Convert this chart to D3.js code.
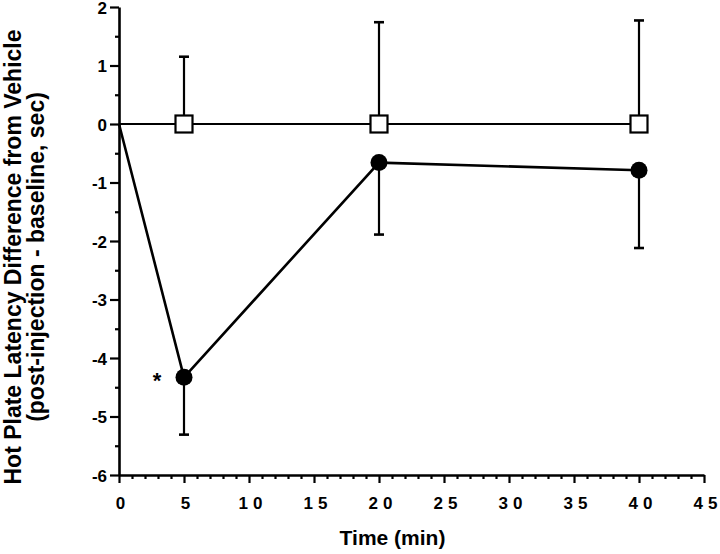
<!DOCTYPE html>
<html>
<head>
<meta charset="utf-8">
<script src="https://cdn.jsdelivr.net/npm/d3@7"></script>
<style>
  body { margin: 0; background: #fff; }
  svg { display: block; }
  text { font-family: "Liberation Sans", Arial, Helvetica, sans-serif; font-weight: bold; fill: #000; }
</style>
</head>
<body>
<svg id="chart" width="720" height="554"></svg>
<script>
// Data
const times = [0, 5, 20, 40];
const vehicleMean = [0, 0, 0, 0];
const vehicleSEM = [null, 1.15, 1.74, 1.77];
const drugMean = [0, -4.33, -0.66, -0.79];
const drugSEM = [null, 0.98, 1.23, 1.33];
const xTicks = [0, 5, 10, 15, 20, 25, 30, 35, 40, 45];
const yTicks = [-6, -5, -4, -3, -2, -1, 0, 1, 2];
const xTitle = "Time (min)";
const yTitle1 = "Hot Plate Latency Difference from Vehicle";
const yTitle2 = "(post-injection - baseline, sec)";
const sigMark = { time: 5, value: -4.33, label: "*" };

const svg = d3.select("#chart");
const W = 720, H = 554;
const m = { left: 119, right: 16, top: 7, bottom: 79 };

const x = d3.scaleLinear().domain([0, 45]).range([m.left, W - m.right]);
const y = d3.scaleLinear().domain([-6, 2]).range([H - m.bottom, m.top]);

// Axes
const yMinor = d3.range(-6, 2.01, 0.5).filter(v => Math.abs(v % 1) > 0.01);
const xMinor = d3.range(0, 45.01, 1).filter(v => v % 5 !== 0);

const gy = svg.append("g").attr("transform", `translate(${m.left},0)`);
gy.call(d3.axisLeft(y).tickValues(yMinor).tickSize(4).tickFormat(""));
gy.call(g => g.select(".domain").remove());
const gyMaj = svg.append("g").attr("transform", `translate(${m.left},0)`)
  .call(d3.axisLeft(y).tickValues(yTicks).tickSize(9).tickPadding(3).tickFormat(d3.format("d")).tickSizeOuter(0));
gyMaj.selectAll("text").style("font-size", "17px").attr("dy", "0.36em").text(d => d < 0 ? "-" + Math.abs(d) : d);

const gx = svg.append("g").attr("transform", `translate(0,${y(-6)})`);
gx.call(d3.axisBottom(x).tickValues(xMinor).tickSize(4).tickFormat(""));
gx.call(g => g.select(".domain").remove());
const gxMaj = svg.append("g").attr("transform", `translate(0,${y(-6)})`)
  .call(d3.axisBottom(x).tickValues(xTicks).tickSize(8).tickPadding(14).tickSizeOuter(0));
// spaced-out digits (gap only between characters)
gxMaj.selectAll("text").style("font-size", "17px").attr("dx", "1px").each(function(d) {
  const s = String(d);
  const t = d3.select(this).text(null);
  t.append("tspan").text(s[0]);
  if (s.length > 1) t.append("tspan").attr("dx", 5).text(s.slice(1));
});

svg.selectAll(".domain").attr("stroke-width", 2.6).attr("stroke", "#000");
svg.selectAll(".tick line").attr("stroke-width", 2.2).attr("stroke", "#000");
svg.selectAll(".tick text").attr("fill", "#000");

// Titles
svg.append("text").attr("x", (x(0) + x(45)) / 2 - 19).attr("y", 545).attr("text-anchor", "middle")
  .style("font-size", "21px").text(xTitle);
svg.append("text").attr("transform", "translate(21,257) rotate(-90)").attr("text-anchor", "middle")
  .style("font-size", "23px").text(yTitle1);
svg.append("text").attr("transform", "translate(44,257) rotate(-90)").attr("text-anchor", "middle")
  .style("font-size", "23px").text(yTitle2);

// Error bars
function errBars(means, sems, dir, sw) {
  const rows = times.map((t, i) => ({ t, m: means[i], s: sems[i] })).filter(d => d.s != null);
  const g = svg.append("g").attr("stroke", "#000").attr("stroke-width", sw);
  g.selectAll("line.v").data(rows).join("line")
    .attr("x1", d => x(d.t)).attr("x2", d => x(d.t))
    .attr("y1", d => y(d.m)).attr("y2", d => y(d.m + dir * d.s));
  g.selectAll("line.c").data(rows).join("line")
    .attr("x1", d => x(d.t) - 5).attr("x2", d => x(d.t) + 5)
    .attr("y1", d => y(d.m + dir * d.s)).attr("y2", d => y(d.m + dir * d.s))
    .attr("stroke-width", 2.6);
}
errBars(vehicleMean, vehicleSEM, 1, 2.2);
errBars(drugMean, drugSEM, -1, 2.2);

// Lines
const line = d3.line().x(d => x(d[0])).y(d => y(d[1]));
svg.append("path").datum(times.map((t, i) => [t, vehicleMean[i]]))
  .attr("d", line).attr("fill", "none").attr("stroke", "#000").attr("stroke-width", 2);
svg.append("path").datum(times.map((t, i) => [t, drugMean[i]]))
  .attr("d", line).attr("fill", "none").attr("stroke", "#000").attr("stroke-width", 2.6);

// Markers
const sq = 17;
svg.append("g").selectAll("rect").data(times.slice(1).map((t, i) => [t, vehicleMean[i + 1]])).join("rect")
  .attr("x", d => x(d[0]) - sq / 2).attr("y", d => y(d[1]) - sq / 2)
  .attr("width", sq).attr("height", sq)
  .attr("fill", "#fff").attr("stroke", "#000").attr("stroke-width", 2.2);
svg.append("g").selectAll("circle").data(times.slice(1).map((t, i) => [t, drugMean[i + 1]])).join("circle")
  .attr("cx", d => x(d[0])).attr("cy", d => y(d[1])).attr("r", 8.5).attr("fill", "#000");

// Significance mark
svg.append("text").attr("x", x(sigMark.time) - 27).attr("y", y(sigMark.value) + 11)
  .attr("text-anchor", "middle").style("font-size", "22px").text(sigMark.label);
</script>
</body>
</html>
